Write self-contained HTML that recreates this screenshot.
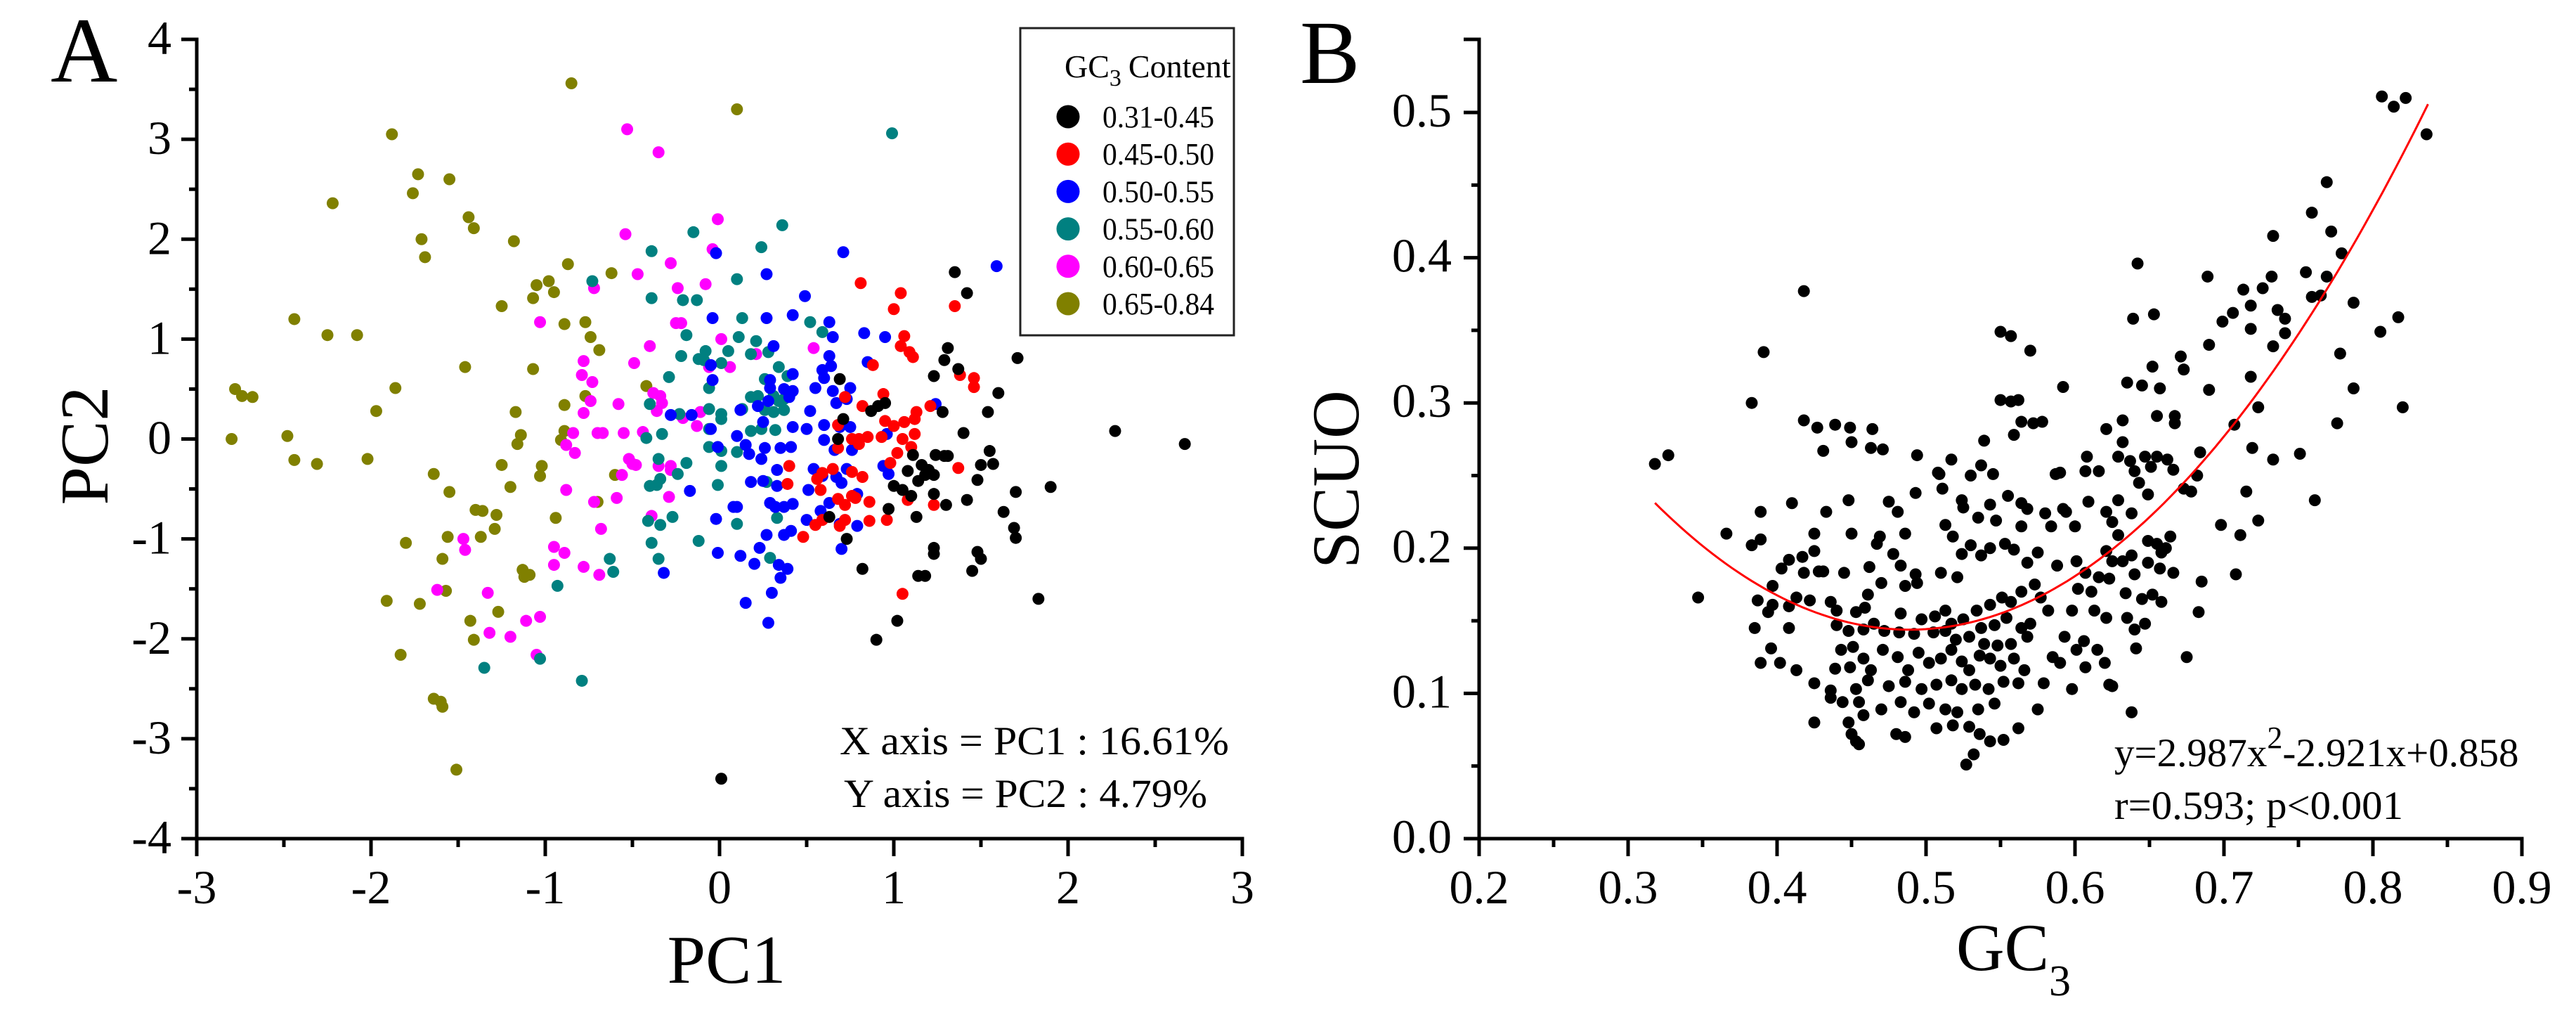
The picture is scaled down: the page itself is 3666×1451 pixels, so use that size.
<!DOCTYPE html>
<html><head><meta charset="utf-8"><style>
html,body{margin:0;padding:0;background:#fff;}
svg{display:block;font-family:"Liberation Serif","Times New Roman",serif;}
</style></head><body>
<svg id="fig" width="3666" height="1451" viewBox="0 0 3666 1451" xmlns="http://www.w3.org/2000/svg">
<rect width="3666" height="1451" fill="#fff"/>
<g id="panelA"></g>
<g id="panelB"></g>
</svg>
<script>
// ---------- Panel A data ----------
const aGroups = ["0.31-0.45","0.45-0.50","0.50-0.55","0.55-0.60","0.60-0.65","0.65-0.84"];
const aColors = ["#000000","#ff0000","#0000ff","#008080","#ff00ff","#808000"];
const aXTicks = [-3,-2,-1,0,1,2,3];
const aYTicks = [4,3,2,1,0,-1,-2,-3,-4];
const aOlive = [[-0.85,3.56],[0.10,3.30],[-1.88,3.05],[-1.73,2.65],[-1.55,2.60],[-1.76,2.46],[-2.22,2.36],[-1.44,2.22],[-1.41,2.11],[-1.71,2.00],[-1.69,1.82],[-1.18,1.98],[-0.87,1.75],[-0.62,1.66],[-0.98,1.58],[-1.05,1.54],[-0.95,1.47],[-1.07,1.41],[-1.25,1.33],[-2.44,1.20],[-0.77,1.17],[-0.89,1.15],[-2.25,1.04],[-2.08,1.04],[-0.74,1.02],[-0.69,0.89],[-1.46,0.72],[-1.07,0.70],[-1.86,0.51],[-0.42,0.53],[-0.77,0.43],[-2.78,0.50],[-2.74,0.43],[-2.68,0.42],[-0.89,0.34],[-1.17,0.27],[-1.97,0.28],[-0.89,0.08],[-1.14,0.04],[-2.48,0.03],[-2.80,0.0],[-0.91,-0.01],[-1.16,-0.05],[-2.44,-0.21],[-2.31,-0.25],[-2.02,-0.20],[-1.25,-0.26],[-1.02,-0.27],[-1.03,-0.37],[-1.64,-0.35],[-0.60,-0.36],[-1.20,-0.48],[-1.55,-0.53],[-0.70,-0.63],[-1.40,-0.71],[-1.36,-0.72],[-1.28,-0.76],[-0.94,-0.79],[-1.29,-0.90],[-1.37,-0.98],[-1.56,-0.98],[-1.80,-1.04],[-1.59,-1.20],[-1.13,-1.31],[-1.12,-1.38],[-1.09,-1.36],[-1.57,-1.52],[-1.91,-1.62],[-1.72,-1.65],[-1.27,-1.73],[-1.43,-1.82],[-1.41,-2.01],[-1.83,-2.16],[-1.64,-2.60],[-1.60,-2.63],[-1.59,-2.68],[-1.51,-3.31]];
const aMagenta = [[-0.53,3.10],[-0.35,2.87],[-0.01,2.20],[-0.54,2.05],[-0.04,1.90],[-0.28,1.76],[-0.47,1.65],[-0.08,1.55],[-0.72,1.51],[-0.24,1.51],[-0.25,1.16],[-0.22,1.16],[-1.03,1.17],[0.01,1.00],[0.21,0.85],[-0.40,0.93],[-0.49,0.76],[-0.78,0.78],[-0.06,0.72],[0.06,0.72],[0.54,0.91],[-0.79,0.64],[-0.73,0.57],[-0.38,0.46],[-0.34,0.43],[-0.74,0.38],[-0.58,0.35],[-0.33,0.36],[-0.36,0.28],[-0.11,0.27],[-0.78,0.26],[-0.21,0.21],[-0.84,0.06],[-0.70,0.06],[-0.67,0.06],[-0.55,0.06],[-0.44,0.07],[-0.13,0.13],[-0.88,-0.06],[-0.83,-0.14],[-0.56,-0.36],[-0.52,-0.20],[-0.50,-0.25],[-0.48,-0.26],[-0.28,-0.27],[-0.35,-0.27],[-0.28,-0.31],[-0.88,-0.51],[-0.59,-0.59],[-0.72,-0.63],[-0.29,-0.58],[-0.39,-0.77],[-0.68,-0.90],[-1.47,-1.00],[-1.46,-1.11],[-0.95,-1.08],[-0.89,-1.14],[-0.95,-1.26],[-0.78,-1.28],[-0.69,-1.36],[-1.62,-1.51],[-1.33,-1.54],[-1.03,-1.78],[-1.11,-1.82],[-1.32,-1.94],[-1.20,-1.98],[-1.05,-2.16]];
const aTeal = [[0.99,3.06],[0.36,2.14],[-0.15,2.07],[0.24,1.92],[-0.39,1.88],[0.10,1.60],[-0.73,1.58],[-0.39,1.41],[-0.21,1.39],[-0.13,1.39],[0.52,1.17],[0.13,1.21],[-0.19,1.04],[0.11,1.02],[0.21,0.98],[0.59,1.07],[-0.22,0.83],[-0.08,0.88],[0.05,0.88],[0.18,0.85],[0.28,0.87],[-0.12,0.80],[-0.09,0.79],[0.01,0.76],[0.34,0.72],[-0.29,0.62],[0.26,0.60],[0.39,0.63],[-0.06,0.51],[0.18,0.42],[0.22,0.43],[0.31,0.43],[0.34,0.38],[0.37,0.40],[-0.40,0.35],[-0.06,0.30],[0.01,0.25],[0.13,0.30],[0.26,0.29],[0.31,0.27],[0.37,0.29],[-0.23,0.25],[0.01,0.20],[-0.06,0.10],[-0.33,0.05],[-0.42,0.01],[0.18,0.08],[0.24,0.10],[0.32,0.09],[-0.06,-0.08],[0.01,-0.12],[0.10,-0.13],[-0.35,-0.20],[-0.19,-0.24],[0.01,-0.27],[-0.24,-0.35],[-0.34,-0.40],[-0.40,-0.47],[-0.01,-0.46],[-0.36,-0.46],[0.27,-0.43],[0.33,-0.79],[-0.27,-0.78],[-0.41,-0.82],[-0.34,-0.86],[0.10,-0.85],[-0.39,-1.04],[-0.12,-1.02],[-0.63,-1.20],[-0.35,-1.20],[-0.61,-1.33],[0.29,-1.19],[-0.93,-1.47],[-1.35,-2.29],[-1.03,-2.20],[-0.79,-2.42]];
const aBlue = [[1.59,1.73],[0.71,1.87],[-0.02,1.86],[0.27,1.65],[0.49,1.43],[-0.04,1.21],[0.27,1.21],[0.42,1.24],[0.63,1.17],[0.65,1.02],[0.83,1.06],[0.95,1.02],[0.31,0.93],[0.85,0.77],[0.63,0.83],[0.64,0.73],[-0.05,0.74],[-0.04,0.59],[0.29,0.59],[0.42,0.65],[0.59,0.69],[0.60,0.61],[0.75,0.51],[0.29,0.51],[0.37,0.50],[0.42,0.48],[0.55,0.51],[0.65,0.48],[0.67,0.36],[0.28,0.38],[0.40,0.42],[0.73,0.40],[0.12,0.29],[0.22,0.33],[0.52,0.28],[-0.28,0.24],[-0.16,0.24],[1.24,0.35],[-0.05,0.10],[0.25,0.17],[0.42,0.12],[0.50,0.10],[0.60,0.14],[0.69,0.12],[0.75,0.12],[0.10,0.03],[-0.01,-0.08],[0.15,-0.06],[0.60,-0.01],[0.66,-0.11],[0.76,-0.11],[0.96,0.05],[0.17,-0.15],[0.26,-0.09],[0.35,-0.09],[0.41,-0.08],[0.94,-0.27],[0.24,-0.20],[0.33,-0.31],[0.54,-0.30],[0.59,-0.37],[0.67,-0.38],[0.73,-0.30],[0.25,-0.42],[0.33,-0.47],[0.51,-0.51],[0.70,-0.44],[0.79,-0.55],[0.97,-0.35],[-0.17,-0.52],[0.08,-0.68],[0.10,-0.68],[0.18,-0.43],[0.29,-0.64],[0.32,-0.68],[0.37,-0.68],[0.42,-0.65],[0.63,-0.64],[-0.02,-0.80],[0.50,-0.81],[0.58,-0.72],[0.69,-0.85],[0.79,-0.87],[0.27,-0.96],[0.37,-0.96],[0.41,-0.92],[0.23,-1.09],[0.70,-1.10],[-0.01,-1.14],[0.12,-1.17],[0.20,-1.25],[0.34,-1.26],[0.39,-1.30],[-0.32,-1.34],[0.35,-1.39],[0.30,-1.54],[0.15,-1.64],[0.28,-1.84]];
const aRed = [[0.81,1.56],[1.04,1.46],[1.35,1.33],[1.00,1.30],[1.06,1.03],[1.04,0.93],[1.09,0.87],[1.11,0.82],[0.88,0.74],[1.38,0.64],[1.46,0.61],[1.46,0.52],[0.72,0.42],[0.94,0.45],[1.21,0.33],[0.82,0.33],[1.13,0.27],[1.12,0.20],[0.95,0.18],[1.06,0.17],[0.68,0.14],[1.12,0.05],[1.00,0.13],[0.80,0.00],[0.76,0.00],[0.85,0.02],[0.93,0.02],[1.05,0.00],[0.80,-0.05],[1.10,-0.08],[0.68,-0.09],[1.02,-0.14],[0.98,-0.24],[0.40,-0.27],[0.65,-0.30],[0.76,-0.33],[1.37,-0.29],[0.59,-0.34],[0.39,-0.45],[0.56,-0.40],[0.82,-0.38],[0.58,-0.51],[0.76,-0.57],[0.78,-0.59],[0.68,-0.60],[0.72,-0.66],[0.86,-0.63],[1.23,-0.66],[1.08,-0.61],[0.59,-0.81],[0.86,-0.82],[0.96,-0.81],[0.72,-0.81],[0.55,-0.86],[0.69,-0.87],[0.48,-0.98],[1.05,-1.55]];
const aBlack = [[1.35,1.67],[1.42,1.46],[1.71,0.81],[1.31,0.91],[1.29,0.79],[1.37,0.70],[1.23,0.63],[1.60,0.46],[0.69,0.60],[0.71,0.20],[0.87,0.28],[0.91,0.33],[0.95,0.36],[1.28,0.27],[1.54,0.27],[2.27,0.08],[2.67,-0.05],[1.40,0.06],[0.68,0.00],[1.11,-0.16],[1.24,-0.16],[1.29,-0.17],[1.31,-0.17],[1.55,-0.12],[1.57,-0.25],[1.50,-0.26],[1.70,-0.53],[1.90,-0.48],[1.08,-0.32],[1.16,-0.26],[1.20,-0.31],[1.18,-0.36],[1.23,-0.36],[1.14,-0.42],[1.48,-0.41],[1.00,-0.47],[1.05,-0.51],[1.10,-0.57],[1.23,-0.55],[1.42,-0.61],[0.97,-0.70],[1.13,-0.78],[1.30,-0.66],[1.63,-0.73],[0.63,-0.78],[1.69,-0.89],[1.70,-0.99],[0.73,-1.00],[1.23,-1.09],[1.23,-1.15],[1.48,-1.13],[1.50,-1.20],[0.82,-1.30],[1.14,-1.37],[1.18,-1.37],[1.45,-1.32],[1.83,-1.60],[1.02,-1.82],[0.90,-2.01],[0.01,-3.40]];
// draw order: olive, magenta, teal, blue, red, black
const aSeries = [aOlive, aMagenta, aTeal, aBlue, aRed, aBlack];
const aSeriesColorIdx = [5,4,3,2,1,0];

// ---------- Panel B data ----------
const bXTicks = [0.2,0.3,0.4,0.5,0.6,0.7,0.8,0.9];
const bYTicks = [0.0,0.1,0.2,0.3,0.4,0.5];
const bCoef = [2.987,-2.921,0.858];
const bFitRange = [0.318,0.837];
const bGC3 = [0.806,0.814,0.822,0.836,0.769,0.759,0.772,0.733,0.779,0.769,0.732,0.726,0.713,0.689,0.755,0.759,0.765,0.741,0.736,0.718,0.706,0.699,0.787,0.817,0.805,0.718,0.741,0.690,0.733,0.778,0.671,0.673,0.718,0.690,0.787,0.820,0.723,0.776,0.707,0.719,0.733,0.751,0.684,0.682,0.673,0.678,0.715,0.761,0.698,0.723,0.711,0.685,0.708,0.683,0.675,
0.642,0.639,0.653,0.635,0.645,0.657,0.652,0.655,0.667,0.667,0.632,0.621,0.632,0.647,0.655,0.662,0.666,0.629,0.637,0.640,0.651,0.643,0.608,0.616,0.607,0.649,0.629,0.621,0.638,0.609,0.594,0.590,0.587,0.592,0.625,0.629,0.621,0.649,0.655,0.664,0.658,0.661,0.625,0.632,0.638,0.640,0.649,0.657,0.666,0.607,0.616,0.601,0.602,0.611,0.623,0.634,0.652,0.658,0.645,0.635,0.640,0.641,0.647,0.621,0.598,0.613,0.615,0.607,0.623,0.625,0.598,0.638,0.601,0.590,0.579,0.575,0.585,0.593,0.620,0.606,
0.550,0.557,0.570,0.550,0.557,0.562,0.559,0.564,0.572,0.578,0.539,0.537,0.545,0.530,0.517,0.509,0.494,0.463,0.471,0.449,0.464,0.418,0.391,0.383,0.418,0.427,0.439,0.431,0.450,0.318,0.327,0.366,0.347,0.389,0.383,0.389,0.410,0.425,0.433,0.448,0.450,0.469,0.467,0.481,0.475,0.486,0.478,0.493,0.511,0.508,0.524,0.525,0.513,0.535,0.543,0.555,0.564,0.568,0.580,0.592,0.600,0.584,0.564,0.547,0.518,0.530,0.543,0.524,0.537,0.553,0.559,0.568,0.575,0.588,
0.408,0.417,0.425,0.403,0.418,0.428,0.431,0.445,0.462,0.483,0.493,0.510,0.521,0.494,0.486,0.470,0.461,0.397,0.397,0.394,0.387,0.408,0.413,0.422,0.436,0.440,0.453,0.459,0.465,0.483,0.497,0.506,0.513,0.517,0.525,0.534,0.543,0.551,0.557,0.564,0.573,0.577,0.582,0.546,0.537,0.554,0.564,0.570,
0.385,0.408,0.440,0.448,0.458,0.472,0.482,0.492,0.505,0.513,0.520,0.529,0.539,0.548,0.557,0.568,0.396,0.389,0.402,0.413,0.425,0.439,0.443,0.451,0.458,0.449,0.463,0.471,0.481,0.488,0.495,0.502,0.510,0.517,0.524,0.529,0.536,0.543,0.550,0.559,0.566,
0.436,0.453,0.461,0.475,0.486,0.497,0.507,0.517,0.524,0.533,0.542,0.552,0.562,0.436,0.444,0.455,0.470,0.483,0.492,0.502,0.513,0.521,0.535,0.546,0.425,0.448,0.450,0.453,0.455,0.480,0.486,0.507,0.518,0.529,0.536,0.543,0.552,0.532,0.527,0.562,0.458];
const bSCUO = [0.511,0.504,0.510,0.485,0.452,0.431,0.418,0.415,0.403,0.387,0.387,0.379,0.378,0.387,0.390,0.373,0.374,0.358,0.364,0.367,0.362,0.356,0.369,0.359,0.349,0.351,0.348,0.340,0.339,0.334,0.332,0.323,0.318,0.309,0.310,0.297,0.297,0.286,0.285,0.269,0.261,0.265,0.266,0.250,0.241,0.239,0.239,0.233,0.216,0.219,0.209,0.177,0.182,0.156,0.125,
0.396,0.358,0.361,0.314,0.312,0.310,0.325,0.291,0.291,0.286,0.288,0.282,0.273,0.263,0.263,0.261,0.254,0.263,0.260,0.253,0.256,0.245,0.263,0.253,0.253,0.237,0.233,0.225,0.224,0.232,0.225,0.252,0.251,0.311,0.218,0.209,0.198,0.205,0.203,0.208,0.197,0.200,0.191,0.191,0.195,0.182,0.190,0.186,0.183,0.183,0.180,0.191,0.172,0.170,0.179,0.169,0.168,0.163,0.165,0.152,0.144,0.131,0.148,0.152,0.157,0.157,0.130,0.118,0.106,0.105,0.103,0.087,0.130,0.121,0.107,0.089,0.125,0.139,0.121,0.136,
0.349,0.346,0.336,0.302,0.301,0.302,0.278,0.287,0.286,0.287,0.274,0.257,0.251,0.250,0.261,0.251,0.264,0.269,0.268,0.283,0.282,0.377,0.335,0.300,0.288,0.283,0.285,0.267,0.273,0.258,0.264,0.210,0.166,0.225,0.202,0.206,0.231,0.210,0.225,0.233,0.210,0.208,0.203,0.225,0.232,0.210,0.196,0.238,0.241,0.252,0.233,0.228,0.216,0.221,0.230,0.236,0.231,0.227,0.224,0.227,0.215,0.215,0.215,0.219,0.208,0.202,0.200,0.196,0.195,0.203,0.199,0.190,0.197,0.188,
0.192,0.194,0.198,0.186,0.183,0.184,0.184,0.183,0.187,0.188,0.182,0.183,0.180,0.176,0.174,0.176,0.168,0.174,0.161,0.156,0.164,0.160,0.166,0.164,0.163,0.157,0.156,0.159,0.148,0.155,0.151,0.153,0.157,0.148,0.151,0.157,0.161,0.166,0.163,0.170,0.175,0.166,0.157,0.147,0.145,0.152,0.145,0.148,
0.145,0.145,0.147,0.143,0.144,0.143,0.142,0.141,0.142,0.143,0.137,0.139,0.134,0.133,0.134,0.139,0.131,0.121,0.121,0.116,0.107,0.117,0.130,0.132,0.124,0.118,0.116,0.130,0.125,0.116,0.128,0.121,0.124,0.130,0.122,0.116,0.126,0.124,0.119,0.124,0.116,
0.102,0.103,0.109,0.105,0.108,0.103,0.106,0.109,0.103,0.106,0.103,0.108,0.107,0.097,0.094,0.094,0.089,0.094,0.087,0.093,0.089,0.087,0.089,0.093,0.080,0.080,0.072,0.067,0.065,0.072,0.070,0.076,0.078,0.077,0.072,0.067,0.068,0.058,0.051,0.076,0.085];

const NS = "http://www.w3.org/2000/svg";
function mk(parent, tag, attrs, text) {
  const e = document.createElementNS(NS, tag);
  for (const k in attrs) e.setAttribute(k, attrs[k]);
  if (text !== undefined) e.textContent = text;
  parent.appendChild(e);
  return e;
}
function fmtNum(v){ return v < 0 ? "-" + Math.abs(v) : String(v); }

// ---------- Panel A ----------
(function(){
  const g = document.getElementById("panelA");
  const L = 280, R = 1768, T = 56, B = 1193;
  const xMin = -3, xMax = 3, yMin = -4, yMax = 4;
  const sx = v => L + (v - xMin) / (xMax - xMin) * (R - L);
  const sy = v => B - (v - yMin) / (yMax - yMin) * (B - T);

  const pts = mk(g, "g", {});
  
  
  aSeries.forEach((ser, si) => {
    const col = aColors[aSeriesColorIdx[si]];
    ser.forEach(p => {
      const c = mk(pts, "circle", {cx: sx(p[0]), cy: sy(p[1]), r: 8.5, fill: col});
      
      
    });
  });

  const ax = mk(g, "g", {stroke: "#000", "stroke-width": 5, fill: "none"});
  
  
  mk(ax, "path", {d: `M${L},${T} L${L},${B} L${R},${B}`, "stroke-linecap": "square"});
  mk(ax, "line", {x1: L - 22, y1: T, x2: L, y2: T});
  mk(ax, "line", {x1: R, y1: B, x2: R, y2: B + 25});
  for (let v = xMin; v <= xMax + 1e-9; v += 0.5) {
    const major = Math.abs(v - Math.round(v)) < 1e-6;
    mk(ax, "line", {x1: sx(v), y1: B, x2: sx(v), y2: B + (major ? 25 : 12)});
  }
  for (let v = yMin; v <= yMax + 1e-9; v += 0.5) {
    const major = Math.abs(v - Math.round(v)) < 1e-6;
    mk(ax, "line", {x1: L - (major ? 22 : 11), y1: sy(v), x2: L, y2: sy(v)});
  }
  aXTicks.forEach(v => {
    const t = mk(g, "text", {x: sx(v), y: 1285, "font-size": 68, "text-anchor": "middle"}, fmtNum(v));
    
    
  });
  aYTicks.forEach(v => {
    const t = mk(g, "text", {x: 244, y: sy(v) + 21, "font-size": 68, "text-anchor": "end"}, fmtNum(v));
    
    
  });
  let t = mk(g, "text", {x: 1034, y: 1398, "font-size": 98, "text-anchor": "middle"}, "PC1");
  
  
  t = mk(g, "text", {x: 0, y: 0, "font-size": 98, "text-anchor": "middle", transform: "translate(153,634) rotate(-90)"}, "PC2");
  
  
  t = mk(g, "text", {x: 72, y: 116, "font-size": 132}, "A");
  
  
  t = mk(g, "text", {x: 1195, y: 1073, "font-size": 57, textLength: 554, lengthAdjust: "spacingAndGlyphs"}, "X axis = PC1 : 16.61%");
  
  
  t = mk(g, "text", {x: 1201, y: 1148, "font-size": 57, textLength: 517, lengthAdjust: "spacingAndGlyphs"}, "Y axis = PC2 : 4.79%");
  
  

  // legend
  const lg = mk(g, "g", {});
  
  
  mk(lg, "rect", {x: 1452, y: 40, width: 304, height: 437, fill: "#fff", stroke: "#222", "stroke-width": 3});
  const title = mk(lg, "text", {x: 1515, y: 110, "font-size": 46});
  
  
  const s1 = mk(title, "tspan", {}, "GC");
  const s2 = mk(title, "tspan", {dy: 12, "font-size": 34}, "3");
  const s3 = mk(title, "tspan", {dy: -12, dx: 10}, "Content");
  aGroups.forEach((name, i) => {
    const cy = 166 + i * 53.2;
    const e = mk(lg, "g", {});
    
    
    mk(e, "circle", {cx: 1520, cy: cy, r: 16.5, fill: aColors[i]});
    mk(e, "text", {x: 1569, y: cy + 15, "font-size": 44, textLength: 159, lengthAdjust: "spacingAndGlyphs"}, name);
  });
})();

// ---------- Panel B ----------
(function(){
  const g = document.getElementById("panelB");
  const L = 2105, R = 3589, T = 56, B = 1193;
  const xMin = 0.2, xMax = 0.9, yMin = 0, yMax = 0.55;
  const sx = v => L + (v - xMin) / (xMax - xMin) * (R - L);
  const sy = v => B - (v - yMin) / 0.5 * (B - 160);

  const pts = mk(g, "g", {});
  
  
  const n = Math.min(bGC3.length, bSCUO.length);
  for (let i = 0; i < n; i++) {
    const c = mk(pts, "circle", {cx: sx(bGC3[i]), cy: sy(bSCUO[i]), r: 8.5, fill: "#000"});
    
    
  }
  // fit curve
  let d = "";
  const steps = 120;
  for (let k = 0; k <= steps; k++) {
    const x = bFitRange[0] + (bFitRange[1] - bFitRange[0]) * k / steps;
    const y = bCoef[0] * x * x + bCoef[1] * x + bCoef[2];
    d += (k ? " L" : "M") + sx(x).toFixed(1) + "," + sy(y).toFixed(1);
  }
  const fit = mk(g, "path", {d: d, stroke: "#ff0000", "stroke-width": 3, fill: "none"});
  
  

  const ax = mk(g, "g", {stroke: "#000", "stroke-width": 5, fill: "none"});
  
  
  mk(ax, "path", {d: `M${L},${T} L${L},${B} L${R},${B}`, "stroke-linecap": "square"});
  mk(ax, "line", {x1: L - 22, y1: T, x2: L, y2: T});
  for (let i = 0; i <= 14; i++) {
    const v = xMin + i * 0.05;
    mk(ax, "line", {x1: sx(v), y1: B, x2: sx(v), y2: B + (i % 2 === 0 ? 25 : 12)});
  }
  for (let i = 0; i <= 10; i++) {
    const v = i * 0.05;
    mk(ax, "line", {x1: L - (i % 2 === 0 ? 22 : 11), y1: sy(v), x2: L, y2: sy(v)});
  }
  bXTicks.forEach(v => {
    const t = mk(g, "text", {x: sx(v), y: 1285, "font-size": 68, "text-anchor": "middle"}, v.toFixed(1));
    
    
  });
  bYTicks.forEach(v => {
    const t = mk(g, "text", {x: 2066, y: sy(v) + 20, "font-size": 68, "text-anchor": "end"}, v.toFixed(1));
    
    
  });
  let t = mk(g, "text", {x: 2784, y: 1380, "font-size": 95});
  
  
  mk(t, "tspan", {}, "GC");
  mk(t, "tspan", {dy: 36, "font-size": 62}, "3");
  t = mk(g, "text", {x: 0, y: 0, "font-size": 95, "text-anchor": "middle", transform: "translate(1933,682) rotate(-90)"}, "SCUO");
  
  
  t = mk(g, "text", {x: 1850, y: 118, "font-size": 128}, "B");
  
  
  t = mk(g, "text", {x: 3009, y: 1090, "font-size": 57});
  
  
  mk(t, "tspan", {}, "y=2.987x");
  mk(t, "tspan", {dy: -26, "font-size": 44}, "2");
  mk(t, "tspan", {dy: 26}, "-2.921x+0.858");
  t = mk(g, "text", {x: 3009, y: 1165, "font-size": 57, textLength: 411, lengthAdjust: "spacingAndGlyphs"}, "r=0.593; p<0.001");
  
  
})();
</script>
</body></html>
